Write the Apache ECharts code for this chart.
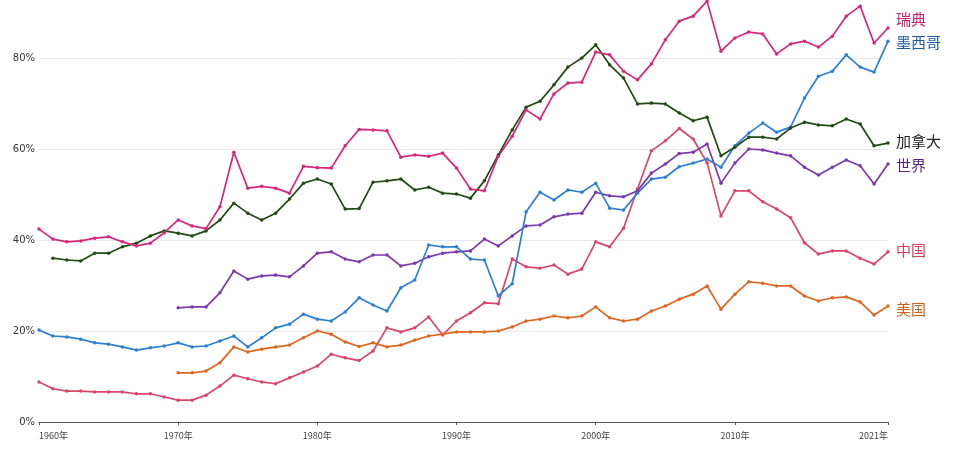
<!DOCTYPE html>
<html>
<head>
<meta charset="utf-8">
<script src="https://cdn.jsdelivr.net/npm/echarts@6/dist/echarts.min.js"></script>
<style>
html,body{margin:0;padding:0;background:#fff;}
#chart{width:972px;height:450px;}
</style>
</head>
<body>
<div id="chart"></div>
<script>
var years = [];
for (var y = 1960; y <= 2021; y++) years.push(y);

var xTickYears = [1960, 1970, 1980, 1990, 2000, 2010, 2021];

var sweden = [
42.4,40.2,39.6,39.8,40.4,40.7,39.6,38.7,39.3,41.6,
44.4,43.1,42.5,47.3,59.3,51.4,51.8,51.4,50.3,56.2,
55.9,55.8,60.7,64.3,64.2,64.0,58.2,58.7,58.4,59.1,
55.8,51.2,50.8,58.4,62.8,68.6,66.6,72.1,74.5,74.7,
81.3,80.7,77.1,75.2,78.7,84.0,88.1,89.2,92.5,81.5,
84.4,85.7,85.3,80.9,83.1,83.7,82.4,84.8,89.2,91.4,
83.3,86.6];

var mexico = [
20.2,18.9,18.7,18.2,17.4,17.1,16.5,15.8,16.3,16.7,
17.4,16.5,16.7,17.8,18.9,16.5,18.5,20.7,21.5,23.7,
22.6,22.2,24.2,27.3,25.7,24.4,29.5,31.2,38.9,38.5,
38.5,35.8,35.6,27.7,30.4,46.2,50.5,48.8,51.0,50.5,
52.5,47.0,46.6,50.3,53.4,53.8,56.1,56.9,57.8,56.0,
60.7,63.5,65.7,63.7,64.8,71.2,76.0,77.1,80.7,78.0,
76.9,83.7];

var canada = [
null,36.0,35.6,35.4,37.1,37.1,38.5,39.3,40.9,42.0,
41.5,40.9,42.0,44.4,48.1,45.9,44.4,45.9,49.0,52.5,
53.4,52.3,46.8,46.9,52.7,53.0,53.4,51.0,51.6,50.3,
50.1,49.2,53.0,58.7,64.2,69.2,70.5,74.1,78.0,80.0,
82.9,78.5,75.6,69.9,70.1,69.9,67.9,66.2,67.0,58.5,
60.4,62.6,62.6,62.2,64.6,65.9,65.3,65.1,66.6,65.5,
60.7,61.3];

var world = [
null,null,null,null,null,null,null,null,null,null,
25.1,25.3,25.3,28.4,33.2,31.4,32.1,32.3,31.9,34.3,
37.1,37.4,35.8,35.2,36.7,36.7,34.3,34.9,36.3,37.1,
37.4,37.6,40.2,38.7,40.9,43.1,43.3,45.1,45.7,45.9,
50.5,49.7,49.5,50.8,54.7,56.7,59.0,59.3,61.1,52.5,
56.9,60.0,59.8,59.1,58.5,56.0,54.3,56.0,57.6,56.3,
52.3,56.7];

var china = [
8.8,7.3,6.8,6.8,6.6,6.6,6.6,6.2,6.2,5.5,
4.8,4.8,5.9,7.9,10.3,9.5,8.8,8.4,9.7,11.0,
12.3,14.9,14.1,13.5,15.6,20.7,19.8,20.7,23.1,19.1,
22.2,24.0,26.2,26.0,35.8,34.1,33.8,34.5,32.5,33.6,
39.6,38.5,42.6,51.2,59.6,61.8,64.5,62.2,57.0,45.3,
50.8,50.8,48.4,46.8,44.9,39.4,36.9,37.6,37.6,36.0,
34.7,37.4];

var usa = [
null,null,null,null,null,null,null,null,null,null,
10.8,10.8,11.2,13.0,16.5,15.4,16.0,16.5,16.9,18.5,
20.0,19.3,17.6,16.6,17.4,16.5,16.9,18.0,18.9,19.3,
19.8,19.8,19.8,20.0,20.9,22.2,22.6,23.3,22.9,23.3,
25.3,22.9,22.2,22.6,24.4,25.5,27.0,28.1,29.9,24.8,
28.1,30.8,30.5,29.9,29.9,27.7,26.6,27.3,27.5,26.4,
23.5,25.5];

var seriesDefs = [
  {name:'中国', values:china, color:'#d8466a', label:'#d4425e', dy:-2},
  {name:'美国', values:usa, color:'#e0661f', label:'#c9601f', dy:3},
  {name:'世界', values:world, color:'#7b3aa8', label:'#5a1f80', dy:1},
  {name:'墨西哥', values:mexico, color:'#2d7fd3', label:'#1f5a9c', dy:1},
  {name:'加拿大', values:canada, color:'#234a16', label:'#222222', dy:-2},
  {name:'瑞典', values:sweden, color:'#d6277a', label:'#c81f67', dy:-9}
];

function pairs(vals){
  var out = [];
  for (var i = 0; i < years.length; i++) {
    if (vals[i] !== null) out.push([years[i], vals[i]]);
  }
  return out;
}

var series = seriesDefs.map(function(d){
  return {
    name: d.name,
    type: 'line',
    data: pairs(d.values),
    symbol: 'circle',
    symbolSize: 3.5,
    showAllSymbol: true,
    clip: false,
    lineStyle: {width: 1.7, color: d.color},
    itemStyle: {color: d.color},
    emphasis: {disabled: true},
    animation: false,
    endLabel: {
      show: true,
      formatter: '{a}',
      color: d.label,
      fontSize: 15,
      fontFamily: 'Noto Sans CJK SC',
      distance: 8,
      offset: [0, d.dy]
    }
  };
});

var chart = echarts.init(document.getElementById('chart'), null, {renderer:'canvas'});
chart.setOption({
  backgroundColor: '#ffffff',
  animation: false,
  grid: {left: 39, right: 84, top: 0, bottom: 28, containLabel: false},
  xAxis: {
    type: 'value',
    min: 1960,
    max: 2021,
    axisLine: {show: true, lineStyle: {color: '#555', width: 1}},
    axisTick: {show: true, customValues: xTickYears, length: 3, lineStyle: {color: '#555'}},
    axisLabel: {
      customValues: xTickYears,
      formatter: function(v){ return v + '年'; },
      fontSize: 9,
      color: '#444',
      margin: 9,
      fontFamily: 'Noto Sans CJK SC',
      alignMinLabel: 'left',
      alignMaxLabel: 'right'
    },
    splitLine: {show: false}
  },
  yAxis: {
    type: 'value',
    min: 0,
    max: 92.75,
    interval: 20,
    axisLine: {show: false},
    axisTick: {show: false},
    axisLabel: {
      formatter: function(v){ return (v % 20 === 0) ? v + '%' : ''; },
      showMaxLabel: false,
      fontSize: 10, color: '#333', margin: 4, fontFamily: 'DejaVu Sans'
    },
    splitLine: {show: true, showMaxLine: false, lineStyle: {color: '#e8e8e8', width: 1}}
  },
  series: series
});
</script>
</body>
</html>
